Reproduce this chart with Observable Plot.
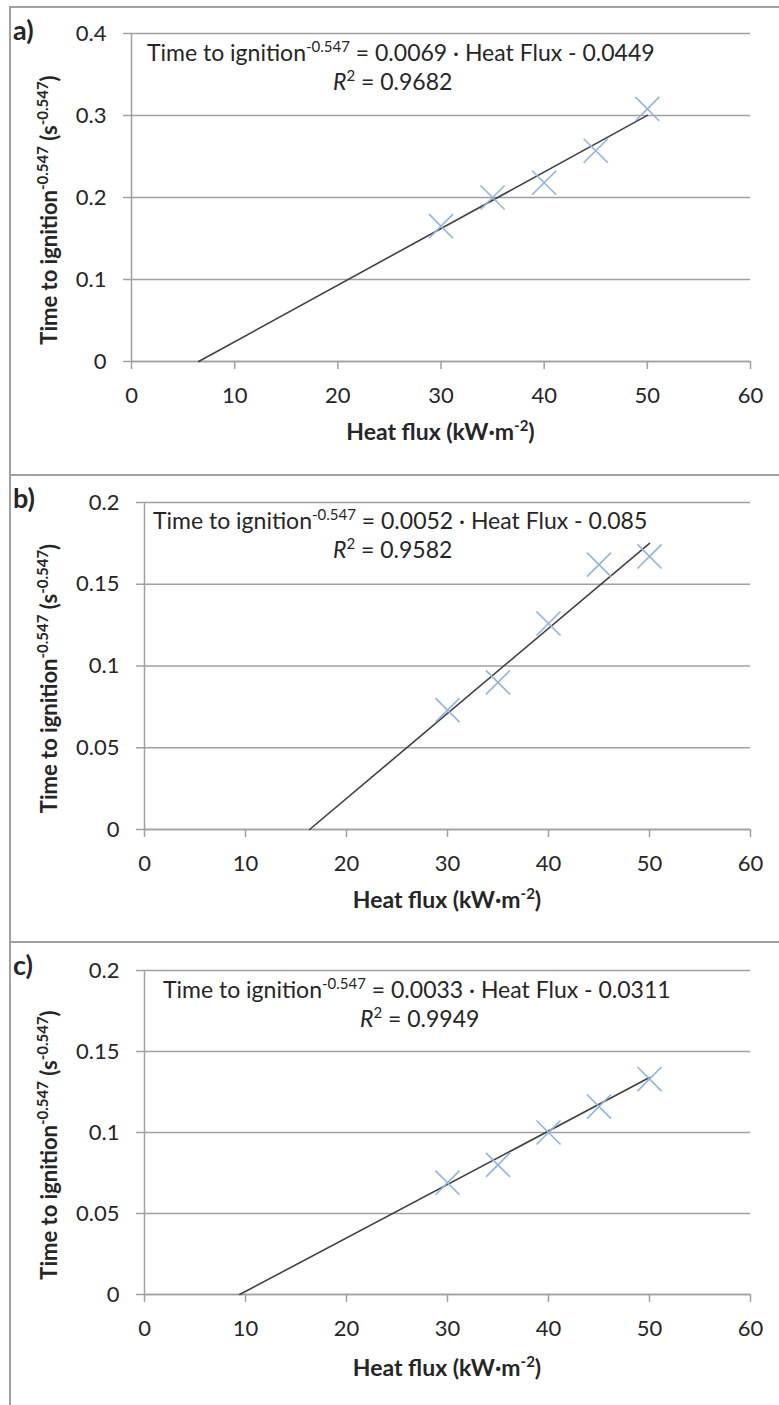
<!DOCTYPE html>
<html>
<head>
<meta charset="utf-8">
<script src="https://cdn.jsdelivr.net/npm/d3@7"></script>
<script src="https://cdn.jsdelivr.net/npm/@observablehq/plot@0.6"></script>
<style>
  html, body { margin: 0; padding: 0; background: #fff; }
  #page { position: relative; width: 779px; height: 1405px; overflow: hidden; background: #fff; font-family: Lato, "Open Sans", sans-serif; }
  .frame { position: absolute; left: 9px; top: 6px; width: 900px; height: 1500px; border-left: 2px solid #a0a0a0; border-top: 2px solid #a0a0a0; box-sizing: border-box; }
  .sep { position: absolute; left: 9px; width: 900px; height: 2px; background: #a0a0a0; }
</style>
</head>
<body>
<div id="page"><div class="frame"></div></div>
<script>
// ---------- data ----------
const heatFlux = [30, 35, 40, 45, 50];
const tigA = [0.165, 0.200, 0.218, 0.257, 0.308];
const tigB = [0.073, 0.090, 0.126, 0.162, 0.167];
const tigC = [0.069, 0.080, 0.100, 0.116, 0.133];
const slopes = [0.0069, 0.0052, 0.0033];
const intercepts = [-0.0449, -0.085, -0.0311];
const r2 = ["0.9682", "0.9582", "0.9949"];
const eqSlopeText = ["0.0069", "0.0052", "0.0033"];
const eqInterceptText = ["0.0449", "0.085", "0.0311"];
const panelLabels = ["a)", "b)", "c)"];
const xTicks = [0, 10, 20, 30, 40, 50, 60];
const yTicksA = [0, 0.1, 0.2, 0.3, 0.4];
const yTicksBC = [0, 0.05, 0.1, 0.15, 0.2];
const xTitle = ["Heat flux (kW·m", "-2", ")"];
const yTitle = ["Time to ignition", "-0.547", " (s", "-0.547", ")"];
const eqLead = ["Time to ignition", "-0.547"];

// ---------- layout ----------
const W = 779;
const panels = [
  {top: 0,   h: 475, ml: 131, mt: 33, mb: 114, ticks: yTicksA, tig: tigA,
   eq1: [147, 61], eq2x: 333, label: [13, 40], xt: 432},
  {top: 475, h: 467, ml: 144, mt: 27, mb: 113, ticks: yTicksBC, tig: tigB,
   eq1: [153, 529], eq2x: 333, label: [13, 508], xt: 900},
  {top: 942, h: 463, ml: 144, mt: 28, mb: 111, ticks: yTicksBC, tig: tigC,
   eq1: [163, 998], eq2x: 360, label: [13, 975], xt: 1368}
];
const lineGap = 29;
const MR = 29;
const grid = "#a0a0a0";
const page = document.getElementById("page");

panels.forEach((p, i) => {
  if (i > 0) {
    const s = document.createElement("div");
    s.className = "sep";
    s.style.top = (p.top - 1) + "px";
    page.appendChild(s);
  }
  const pts = heatFlux.map((x, j) => ({x, y: p.tig[j]}));
  const x0 = -intercepts[i] / slopes[i];
  const trend = [x0, heatFlux[heatFlux.length - 1]].map(x => ({x, y: slopes[i] * x + intercepts[i]}));
  const ymax = p.ticks[p.ticks.length - 1];
  const chart = Plot.plot({
    width: W, height: p.h,
    marginLeft: p.ml, marginRight: MR, marginTop: p.mt, marginBottom: p.mb,
    x: {domain: [0, 60]},
    y: {domain: [0, ymax]},
    style: {fontFamily: "Lato, sans-serif", fontSize: "22px", background: "transparent", color: "#262626", overflow: "visible"},
    marks: [
      Plot.gridY({ticks: p.ticks, stroke: grid, strokeOpacity: 1, strokeWidth: 1.5}),
      Plot.axisY({ticks: p.ticks, tickSize: 8, tickPadding: 17, stroke: grid, strokeOpacity: 1, strokeWidth: 1.5,
                  tickFormat: d => String(+d.toFixed(3)), label: null, fontSize: 22}),
      Plot.axisX({ticks: xTicks, tickSize: 8, tickPadding: 18, stroke: grid, strokeOpacity: 1, strokeWidth: 1.5,
                  tickFormat: d => String(d), label: null, fontSize: 22}),
      Plot.ruleX([0], {stroke: grid, strokeWidth: 1.5}),
      Plot.ruleY([0], {stroke: grid, strokeWidth: 1.5}),
      Plot.line(trend, {x: "x", y: "y", stroke: "#404040", strokeWidth: 1.6}),
      Plot.dot(pts, {x: "x", y: "y", symbol: "times", r: 11, stroke: "#8fb4e3", strokeWidth: 1.6})
    ]
  });
  chart.style.position = "absolute";
  chart.style.left = "0px";
  chart.style.top = p.top + "px";
  page.appendChild(chart);
});

// ---------- text overlay ----------
const ov = d3.select(page).append("svg")
  .attr("width", W).attr("height", 1405)
  .style("position", "absolute").style("left", 0).style("top", 0)
  .attr("font-family", "Lato, sans-serif").attr("fill", "#262626");

// parts: {t, sup, after, italic, newline:{x, dy}}
function rich(x, y, parts, o = {}) {
  const size = o.size || 23;
  const t = ov.append("text")
    .attr("x", x).attr("y", y)
    .attr("font-size", size)
    .attr("font-weight", o.weight || "normal")
    .attr("text-anchor", o.anchor || "start");
  if (o.rotate) t.attr("transform", `rotate(${o.rotate},${x},${y})`);
  const supSize = Math.round(size * 0.66);
  const shift = Math.round(size * 0.4);
  parts.forEach(pt => {
    const s = t.append("tspan").text(pt.t);
    let dy = 0;
    if (pt.sup) { s.attr("font-size", supSize); dy -= shift; }
    if (pt.after) dy += shift;
    if (pt.newline) { s.attr("x", pt.newline.x); dy += pt.newline.dy; }
    if (dy) s.attr("dy", dy);
    if (pt.italic) s.attr("font-style", "italic");
  });
  return t;
}

panels.forEach((p, i) => {
  rich(p.label[0], p.label[1], [{t: panelLabels[i]}], {size: 27, weight: "bold"});
  // equation and R² as one text block of two lines
  rich(p.eq1[0], p.eq1[1], [
    {t: eqLead[0]}, {t: eqLead[1], sup: true},
    {t: " = " + eqSlopeText[i] + " · Heat Flux - " + eqInterceptText[i], after: true},
    {t: "R", italic: true, newline: {x: p.eq2x, dy: lineGap}},
    {t: "2", sup: true}, {t: " = " + r2[i], after: true}
  ], {size: 23});
  const plotTop = p.top + p.mt, plotBot = p.top + p.h - p.mb;
  const cx = (p.ml + (W - MR)) / 2;
  rich(cx, p.xt + 8, [
    {t: xTitle[0]}, {t: xTitle[1], sup: true}, {t: xTitle[2], after: true}
  ], {size: 23, weight: "bold", anchor: "middle"});
  const cy = (plotTop + plotBot) / 2 + 13;
  rich(57, cy, [
    {t: yTitle[0]}, {t: yTitle[1], sup: true}, {t: yTitle[2], after: true},
    {t: yTitle[3], sup: true}, {t: yTitle[4], after: true}
  ], {size: 22, weight: "bold", anchor: "middle", rotate: -90});
});
</script>
</body>
</html>
